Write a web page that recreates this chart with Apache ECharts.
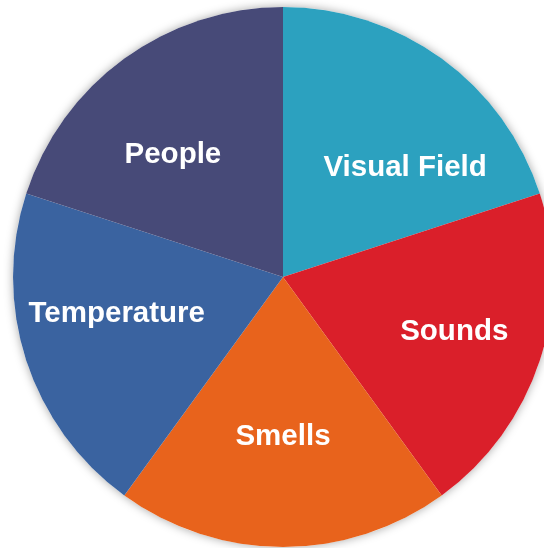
<!DOCTYPE html>
<html>
<head>
<meta charset="utf-8">
<script src="https://cdn.jsdelivr.net/npm/echarts@6/dist/echarts.min.js"></script>
<style>
html,body{margin:0;padding:0;background:#fff;}
#c{width:544px;height:548px;}
</style>
</head>
<body>
<div id="c"></div>
<script>
var categories = ['Visual Field', 'Sounds', 'Smells', 'Temperature', 'People'];
var values = [20, 20, 20, 20, 20];
var colors = ['#2ca1bf', '#da1f2a', '#e8631c', '#3a63a0', '#474a78'];
// label nudges relative to the default inside label position
var labelDx = [41, 40, 0, -35, -29];
var labelDy = [3, 12, 22, -6, -10];

var chart = echarts.init(document.getElementById('c'), null, {renderer: 'canvas'});
chart.setOption({
  animation: false,
  backgroundColor: '#ffffff',
  series: [
    {
      type: 'pie',
      silent: true,
      z: 1,
      center: [283, 277],
      radius: [0, 270],
      label: {show: false},
      labelLine: {show: false},
      itemStyle: {color: '#ffffff', shadowBlur: 10, shadowColor: 'rgba(0,0,0,0.35)', shadowOffsetX: 0, shadowOffsetY: 0},
      data: [{value: 1, name: ''}]
    },
    {
      type: 'pie',
      z: 2,
      center: [283, 277],
      radius: [0, 270],
      startAngle: 90,
      clockwise: true,
      avoidLabelOverlap: false,
      label: {
        show: true,
        position: 'inside',
        color: '#ffffff',
        fontFamily: '"Liberation Sans", Arial, sans-serif',
        fontWeight: 'bold',
        fontSize: 29.5,
        formatter: '{b}'
      },
      labelLine: {show: false},
      labelLayout: function (p) {
        return {dx: labelDx[p.dataIndex], dy: labelDy[p.dataIndex]};
      },
      emphasis: {disabled: true},
      data: categories.map(function (c, i) {
        return {name: c, value: values[i], itemStyle: {color: colors[i]}};
      })
    }
  ]
});
</script>
</body>
</html>
